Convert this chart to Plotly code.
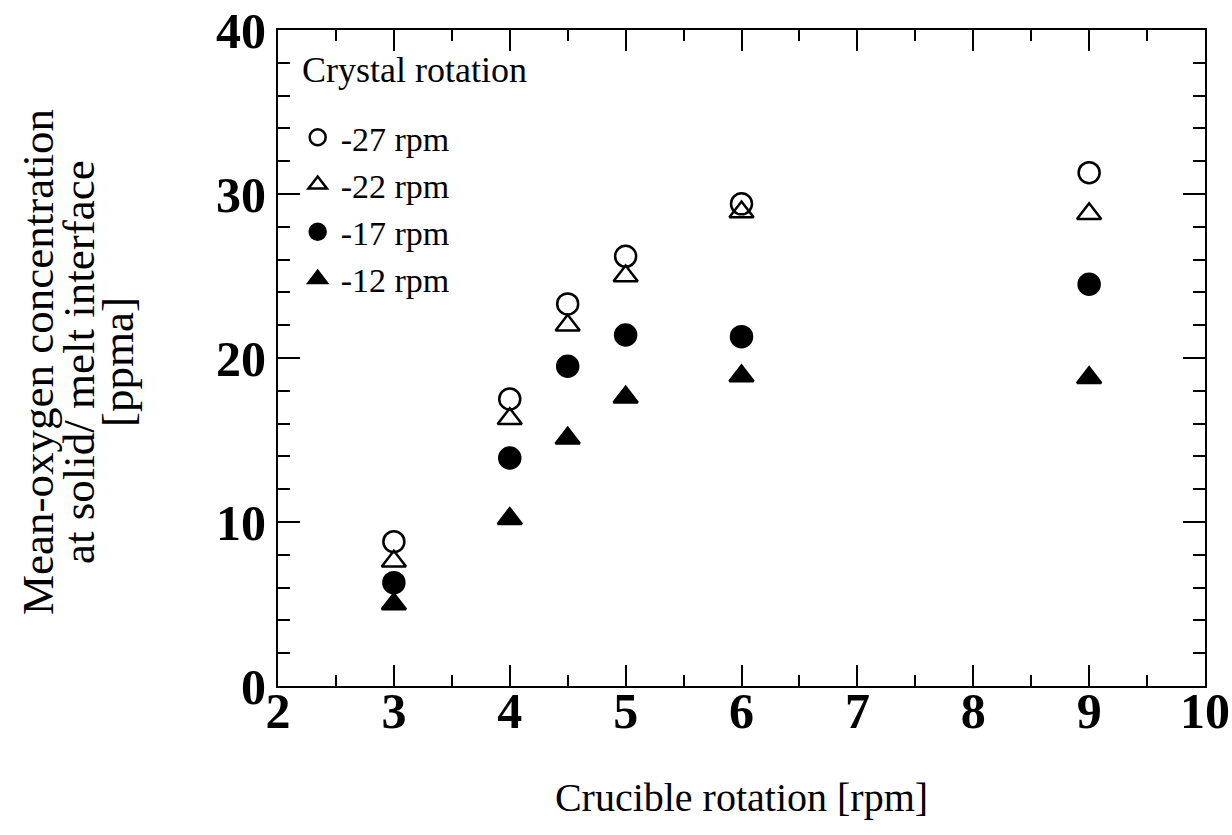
import plotly.graph_objects as go

crucible = [3, 4, 4.5, 5, 6, 9]
series_names = ["-27 rpm", "-22 rpm", "-17 rpm", "-12 rpm"]
oxy_27 = [8.8, 17.5, 23.3, 26.2, 29.4, 31.3]
oxy_22 = [7.6, 16.3, 22.0, 25.0, 28.9, 28.8]
oxy_17 = [6.3, 13.9, 19.5, 21.4, 21.3, 24.5]
oxy_12 = [5.0, 10.2, 15.1, 17.6, 18.9, 18.8]

series_values = [oxy_27, oxy_22, oxy_17, oxy_12]
symbols = ["circle-open", "triangle-up-open", "circle", "triangle-up"]
y_title_lines = ["Mean-oxygen concentration", "at solid/ melt interface", "[ppma]"]
legend_heading = "Crystal rotation"

FONT = "Liberation Serif, Times New Roman, serif"

fig = go.Figure()
for name, vals, sym in zip(series_names, series_values, symbols):
    fig.add_trace(go.Scatter(
        x=crucible, y=vals, mode="markers", name=name,
        marker=dict(symbol=sym, size=21, color="black",
                    line=dict(color="black", width=2.5)),
    ))

axis_common = dict(
    showline=True, linecolor="black", linewidth=2, mirror="allticks",
    ticks="inside", tickcolor="black", tickwidth=2,
    showgrid=False, zeroline=False, automargin=False,
    tickfont=dict(family=FONT, size=50, color="black", weight="bold"),
)

fig.update_layout(
    width=1232, height=835,
    margin=dict(l=278, r=27, t=30, b=149),
    paper_bgcolor="white", plot_bgcolor="white",
    font=dict(family=FONT, color="black"),
    xaxis=dict(
        range=[2, 10], dtick=1, tick0=2, ticklen=21, ticklabelstandoff=-20,
        minor=dict(dtick=0.5, ticks="inside", ticklen=11, tickcolor="black", tickwidth=2),
        title=dict(text="Crucible rotation [rpm]", font=dict(family=FONT, size=40, color="black"), standoff=45),
        **axis_common,
    ),
    yaxis=dict(
        range=[0, 40], dtick=10, tick0=0, ticklen=22,
        minor=dict(dtick=2, ticks="inside", ticklen=12, tickcolor="black", tickwidth=2),
        **axis_common,
    ),
    showlegend=True,
    legend=dict(
        x=0.018, y=0.88, xanchor="left", yanchor="top",
        xref="paper", yref="paper",
        bgcolor="rgba(0,0,0,0)",
        font=dict(family=FONT, size=34, color="black"),
        itemwidth=36, tracegroupgap=0,
    ),
)

# Legend heading
fig.add_annotation(
    text=legend_heading, showarrow=False,
    xref="paper", yref="paper",
    x=(300 - 278) / 927, y=(686 - 70) / 656,
    xanchor="left", yanchor="middle",
    font=dict(family=FONT, size=36, color="black"),
)

# Y-axis title, written as three rotated lines
line_px = [38, 79, 118]
for txt, px in zip(y_title_lines, line_px):
    fig.add_annotation(
        text=txt, textangle=-90, showarrow=False,
        xref="paper", yref="paper",
        x=(px - 278) / 927, y=0.494,
        xanchor="center", yanchor="middle",
        font=dict(family=FONT, size=45, color="black"),
    )

fig.write_html("out.html")
